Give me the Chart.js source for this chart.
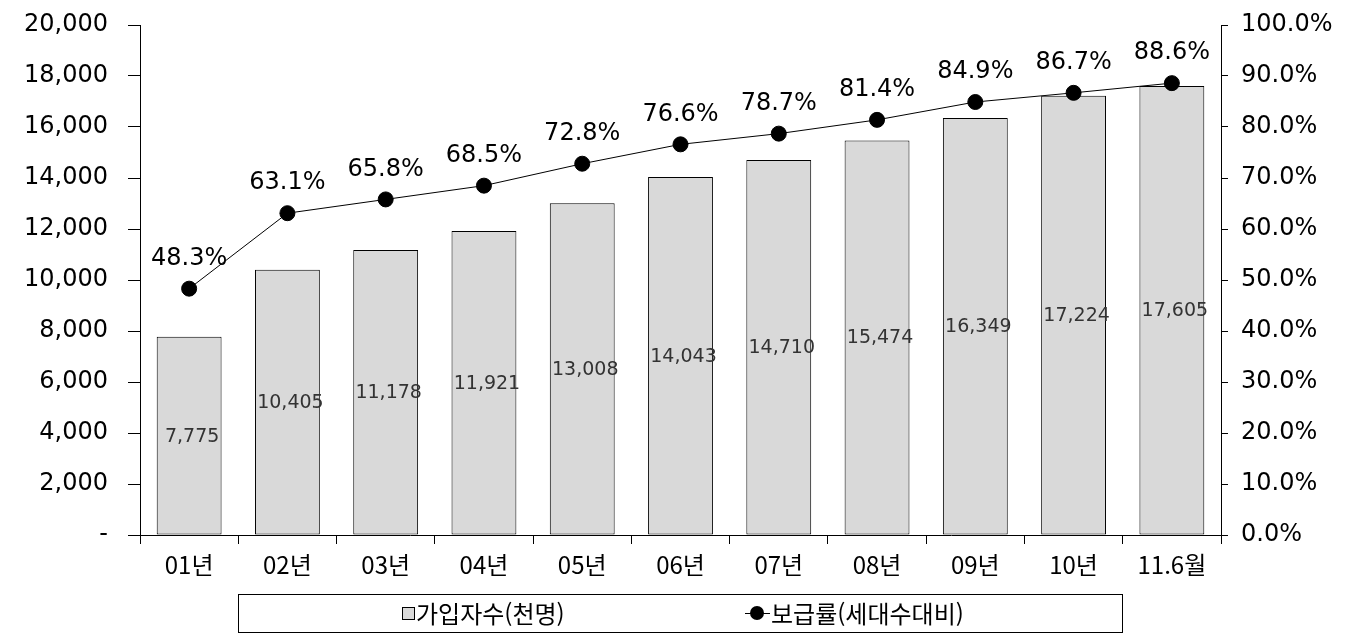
<!DOCTYPE html>
<html lang="ko">
<head>
    <meta charset="UTF-8">
    <title>가입자수 및 보급률</title>
    <script src="https://cdn.jsdelivr.net/npm/chart.js"></script>
    <style>
        body { margin: 0; background: #fff; }
        #chart { display: block; }
    </style>
</head>
<body>
    <canvas id="chart" width="1346" height="637"></canvas>

    <script>
        // Data
        const labels = ['01년', '02년', '03년', '04년', '05년', '06년', '07년', '08년', '09년', '10년', '11.6월'];
        const subscribers = [7775, 10405, 11178, 11921, 13008, 14043, 14710, 15474, 16349, 17224, 17605];
        const penetration = [48.3, 63.1, 65.8, 68.5, 72.8, 76.6, 78.7, 81.4, 84.9, 86.7, 88.6];

        const barLabel = '가입자수(천명)';
        const lineLabel = '보급률(세대수대비)';

        const FONT = '"DejaVu Sans", "Noto Sans CJK KR", sans-serif';
        const KFONT = '"Noto Sans CJK KR", "DejaVu Sans", sans-serif';
        const BAR_COLOR = '#d9d9d9';

        // Draws the value labels (inside bars, above points)
        const valueLabels = {
            id: 'valueLabels',
            afterDatasetsDraw(chart) {
                const ctx = chart.ctx;
                ctx.save();
                ctx.textAlign = 'center';
                ctx.textBaseline = 'middle';

                const barMeta = chart.getDatasetMeta(1);
                ctx.font = '19px ' + FONT;
                ctx.fillStyle = '#333';
                barMeta.data.forEach((bar, i) => {
                    const mid = (bar.y + bar.base) / 2;
                    ctx.fillText(subscribers[i].toLocaleString('en-US'), bar.x + 3, mid + 1);
                });

                const lineMeta = chart.getDatasetMeta(0);
                ctx.font = '24px ' + FONT;
                ctx.fillStyle = '#000';
                lineMeta.data.forEach((pt, i) => {
                    ctx.fillText(penetration[i].toFixed(1) + '%', pt.x, pt.y - 30);
                });
                ctx.restore();
            }
        };

        // Boxed legend at the bottom, like the original
        const boxLegend = {
            id: 'boxLegend',
            afterDraw(chart) {
                const ctx = chart.ctx;
                ctx.save();
                ctx.strokeStyle = '#000';
                ctx.lineWidth = 1;
                ctx.strokeRect(238.5, 594.5, 884, 38);

                const cy = 613;
                ctx.font = '24px ' + KFONT;
                ctx.textBaseline = 'middle';
                ctx.fillStyle = '#000';

                // bar item
                ctx.fillStyle = BAR_COLOR;
                ctx.fillRect(402, cy - 6, 12, 12);
                ctx.strokeRect(402.5, cy - 5.5, 12, 12);
                ctx.fillStyle = '#000';
                ctx.fillText(barLabel, 416, cy + 1);

                // line item
                ctx.beginPath();
                ctx.moveTo(745, cy + 0.5);
                ctx.lineTo(770, cy + 0.5);
                ctx.stroke();
                ctx.beginPath();
                ctx.arc(757, cy, 7, 0, Math.PI * 2);
                ctx.fill();
                ctx.fillText(lineLabel, 771, cy + 1);
                ctx.restore();
            }
        };

        // fixed axis widths, and no extra room for the top tick label
        const fixWidth = w => s => {
            s.width = w;
            s.paddingTop = 0;
            s.paddingBottom = 0;
        };

        new Chart(document.getElementById('chart'), {
            data: {
                labels: labels,
                datasets: [
                    {
                        type: 'line',
                        label: lineLabel,
                        data: penetration,
                        yAxisID: 'y1',
                        borderColor: '#000',
                        borderWidth: 1,
                        pointRadius: 7.5,
                        pointBackgroundColor: '#000',
                        pointBorderColor: '#000',
                        tension: 0,
                        order: 0
                    },
                    {
                        type: 'bar',
                        label: barLabel,
                        data: subscribers,
                        yAxisID: 'y',
                        backgroundColor: BAR_COLOR,
                        borderColor: '#000',
                        borderWidth: 1,
                        borderSkipped: false,
                        barPercentage: 0.66,
                        categoryPercentage: 1,
                        order: 1
                    }
                ]
            },
            options: {
                responsive: false,
                animation: false,
                layout: { padding: { top: 25, bottom: 0, left: 0, right: 0 } },
                plugins: {
                    legend: { display: false },
                    tooltip: { enabled: false }
                },
                scales: {
                    x: {
                        offset: true,
                        grid: { drawOnChartArea: false, drawTicks: true, tickLength: 9, color: '#000', offset: true },
                        border: { color: '#000' },
                        ticks: { color: '#000', font: { size: 24, family: KFONT }, padding: 6, maxRotation: 0 },
                        afterFit: s => { s.height = 102; s.paddingLeft = 0; s.paddingRight = 0; }
                    },
                    y: {
                        position: 'left',
                        min: 0,
                        max: 20000,
                        grid: { drawOnChartArea: false, drawTicks: true, tickLength: 12, color: '#000' },
                        border: { color: '#000' },
                        ticks: {
                            stepSize: 2000,
                            color: '#000',
                            font: { size: 24, family: FONT },
                            padding: 20,
                            callback: v => v === 0 ? '-' : v.toLocaleString('en-US')
                        },
                        afterFit: fixWidth(140)
                    },
                    y1: {
                        position: 'right',
                        min: 0,
                        max: 100,
                        grid: { drawOnChartArea: false, drawTicks: true, tickLength: 7, color: '#000' },
                        border: { color: '#000' },
                        ticks: {
                            stepSize: 10,
                            color: '#000',
                            font: { size: 24, family: FONT },
                            padding: 13,
                            callback: v => v.toFixed(1) + '%'
                        },
                        afterFit: fixWidth(125)
                    }
                }
            },
            plugins: [valueLabels, boxLegend]
        });
    </script>
</body>
</html>
